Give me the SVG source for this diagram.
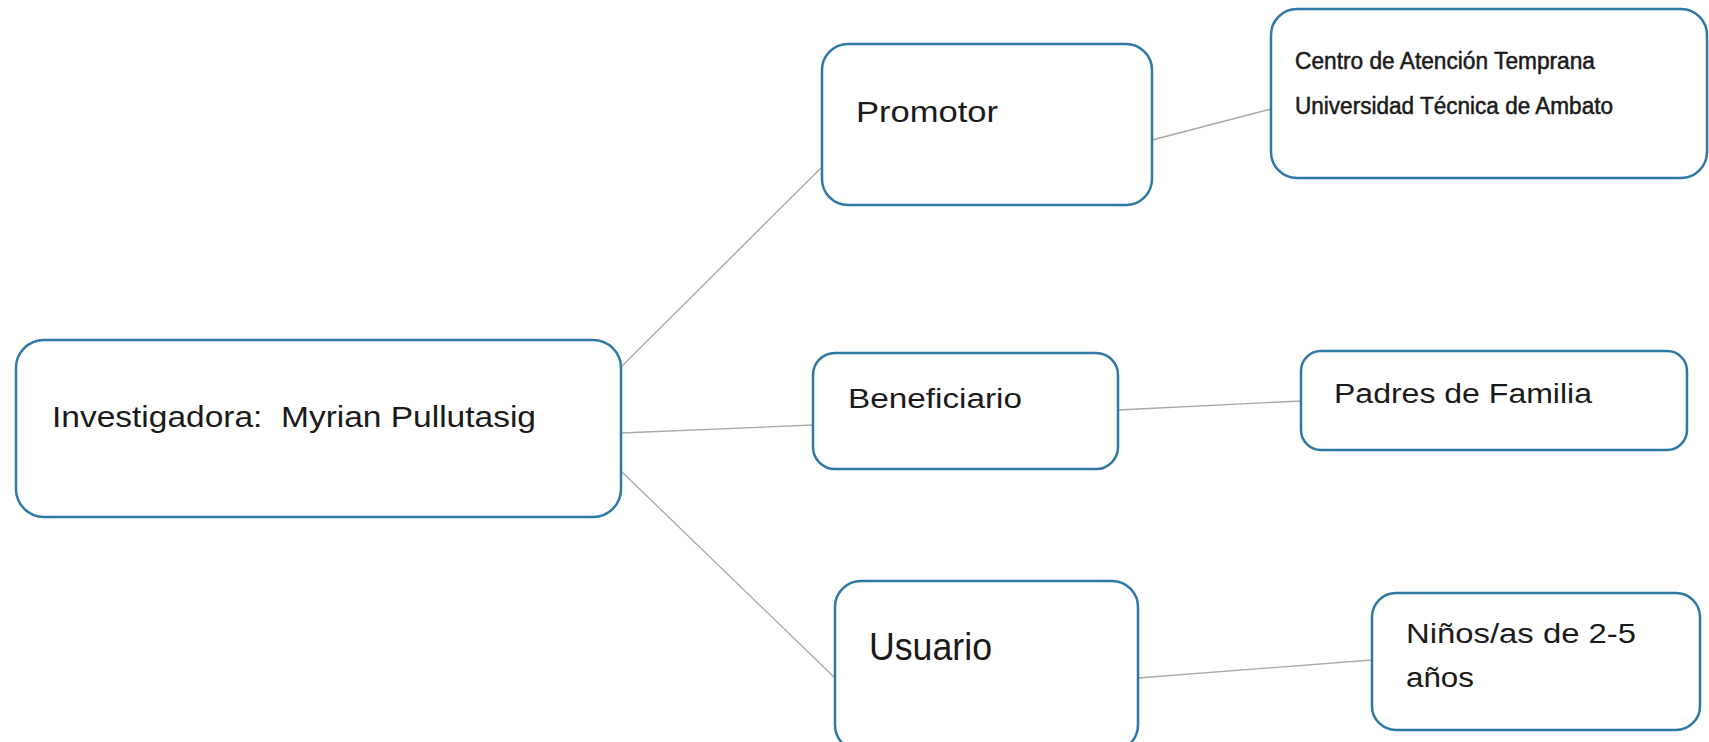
<svg xmlns="http://www.w3.org/2000/svg" width="1709" height="742" viewBox="0 0 1709 742">
<style>
.box{fill:#fff;stroke:#2f78a6;stroke-width:2.5}
.t{font-family:"Liberation Sans",Arial,sans-serif;fill:#1a1a1a}
.b{stroke:#1a1a1a;stroke-width:0.5}
.c{stroke:#a8a8a8;stroke-width:1.3;fill:none}
</style>
<rect width="1709" height="742" fill="#fff"/>
<g id="connectors">
<line class="c" x1="621" y1="367" x2="822" y2="167"/>
<line class="c" x1="621" y1="433" x2="813" y2="425"/>
<line class="c" x1="621" y1="471" x2="835" y2="678"/>
<line class="c" x1="1152" y1="140" x2="1271" y2="109"/>
<line class="c" x1="1118" y1="410" x2="1301" y2="401"/>
<line class="c" x1="1138" y1="678" x2="1372" y2="660"/>
</g>
<g id="investigadora">
<rect class="box" x="16" y="340" width="605" height="177" rx="28"/>
<text class="t" x="52" y="427" font-size="29" textLength="484" lengthAdjust="spacingAndGlyphs" xml:space="preserve">Investigadora:  Myrian Pullutasig</text>
</g>
<g id="promotor">
<rect class="box" x="822" y="44" width="330" height="161" rx="26"/>
<text class="t" x="856" y="122" font-size="30" textLength="142" lengthAdjust="spacingAndGlyphs">Promotor</text>
</g>
<g id="centro">
<rect class="box" x="1271" y="9" width="436" height="169" rx="26"/>
<text class="t b" x="1295" y="69" font-size="23" textLength="300" lengthAdjust="spacingAndGlyphs">Centro de Atención Temprana</text>
<text class="t b" x="1295" y="114" font-size="23" textLength="318" lengthAdjust="spacingAndGlyphs">Universidad Técnica de Ambato</text>
</g>
<g id="beneficiario">
<rect class="box" x="813" y="353" width="305" height="116" rx="22"/>
<text class="t" x="848" y="408" font-size="27" textLength="174" lengthAdjust="spacingAndGlyphs">Beneficiario</text>
</g>
<g id="padres">
<rect class="box" x="1301" y="351" width="386" height="99" rx="20"/>
<text class="t" x="1334" y="403" font-size="27" textLength="258" lengthAdjust="spacingAndGlyphs">Padres de Familia</text>
</g>
<g id="usuario">
<rect class="box" x="835" y="581" width="303" height="170" rx="26"/>
<text class="t" x="869" y="660" font-size="38" textLength="123" lengthAdjust="spacingAndGlyphs">Usuario</text>
</g>
<g id="ninos">
<rect class="box" x="1372" y="593" width="328" height="137" rx="24"/>
<text class="t" x="1406" y="643" font-size="27" textLength="230" lengthAdjust="spacingAndGlyphs">Niños/as de 2-5</text>
<text class="t" x="1406" y="687" font-size="27" textLength="68" lengthAdjust="spacingAndGlyphs">años</text>
</g>
</svg>
